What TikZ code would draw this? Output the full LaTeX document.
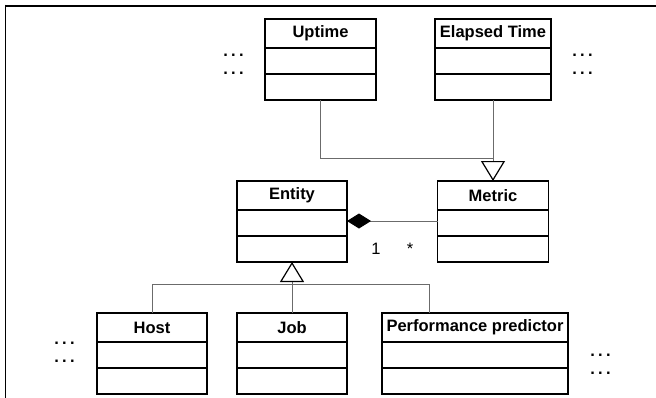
\documentclass[tikz,border=0pt]{standalone}
\usepackage{fontspec}
\setmainfont{Liberation Sans}
\usepackage{tikz}
\usetikzlibrary{arrows.meta, positioning}

\newcommand{\threedots}{.\kern3.3pt.\kern3.3pt.}

\begin{document}
\begin{tikzpicture}[x=1pt, y=-1pt,
    classhead/.style={draw, rectangle, line width=1.4pt, outer sep=0pt, inner sep=2pt,
        minimum height=29pt, font=\fontsize{16.5}{18}\selectfont\bfseries},
    classrow/.style={draw, rectangle, line width=1.4pt, outer sep=0pt, minimum height=26pt},
    conn/.style={line width=1pt, black!58},
    gen/.style={conn, -{Triangle[open, length=20pt, width=24pt, line width=1.2pt, color=black]}},
    mult/.style={anchor=base, inner sep=0pt, font=\fontsize{16.5}{18}\selectfont},
    more/.style={align=center, inner sep=0pt, font=\fontsize{16.5}{18}\selectfont\bfseries}]
    \useasboundingbox (0,0) rectangle (656,397);

    % Frame
    \draw[line width=2pt] (5,5.7) -- (660,5.7);
    \draw[line width=1.3pt] (5.6,4.7) -- (5.6,400);

    % Metric classes
    \node[classhead, minimum width=111pt] (uptime) at (320.5,33.5) {Uptime};
    \node[classrow, minimum width=111pt, below=0pt of uptime] (uptimeA) {};
    \node[classrow, minimum width=111pt, below=0pt of uptimeA] (uptimeB) {};
    \node[classhead, minimum width=116pt] (elapsed) at (493,33.5) {Elapsed Time};
    \node[classrow, minimum width=116pt, below=0pt of elapsed] (elapsedA) {};
    \node[classrow, minimum width=116pt, below=0pt of elapsedA] (elapsedB) {};
    \node[more] (moreL) at (233.5,64.5) {\threedots\\\threedots};
    \node[more] (moreR) at (582.5,64.5) {\threedots\\\threedots};

    % Entity and Metric
    \node[classhead, minimum width=110pt] (entity) at (292,195.5) {Entity};
    \node[classrow, minimum width=110pt, below=0pt of entity] (entityA) {};
    \node[classrow, minimum width=110pt, below=0pt of entityA] (entityB) {};
    \node[classhead, minimum width=111pt] (metric) at (493,195.5) {Metric};
    \node[classrow, minimum width=111pt, below=0pt of metric] (metricA) {};
    \node[classrow, minimum width=111pt, below=0pt of metricA] (metricB) {};

    % Entity classes
    \node[classhead, minimum width=110pt] (host) at (152,327.5) {Host};
    \node[classrow, minimum width=110pt, below=0pt of host] (hostA) {};
    \node[classrow, minimum width=110pt, below=0pt of hostA] (hostB) {};
    \node[classhead, minimum width=110pt] (job) at (292,327.5) {Job};
    \node[classrow, minimum width=110pt, below=0pt of job] (jobA) {};
    \node[classrow, minimum width=110pt, below=0pt of jobA] (jobB) {};
    \node[classhead, minimum width=186pt] (perf) at (475,327.5) {Performance predictor};
    \node[classrow, minimum width=186pt, below=0pt of perf] (perfA) {};
    \node[classrow, minimum width=186pt, below=0pt of perfA] (perfB) {};
    \node[more] (moreBL) at (64.5,352.5) {\threedots\\\threedots};
    \node[more] (moreBR) at (600.5,364.5) {\threedots\\\threedots};

    % Generalization to Metric
    \coordinate (join) at (493,158);
    \draw[conn] (uptimeB.south) |- (join);
    \draw[gen] (elapsedB.south) -- (metric.north);

    % Composition
    \draw[conn, {Diamond[length=24pt, width=15pt, color=black]}-] ([yshift=2pt]entityA.east) -- ([yshift=2pt]metricA.west);
    \node[mult] (multone) at (376,254) {1};
    \node[mult] (multmany) at (410,254) {*};

    % Generalization to Entity
    \coordinate (perfjoin) at ([xshift=47pt]perf.north west);
    \draw[gen] (job.north) -- (entityB.south);
    \draw[conn] (host.north) |- ([yshift=29pt]perfjoin) -- (perfjoin);
\end{tikzpicture}
\end{document}
